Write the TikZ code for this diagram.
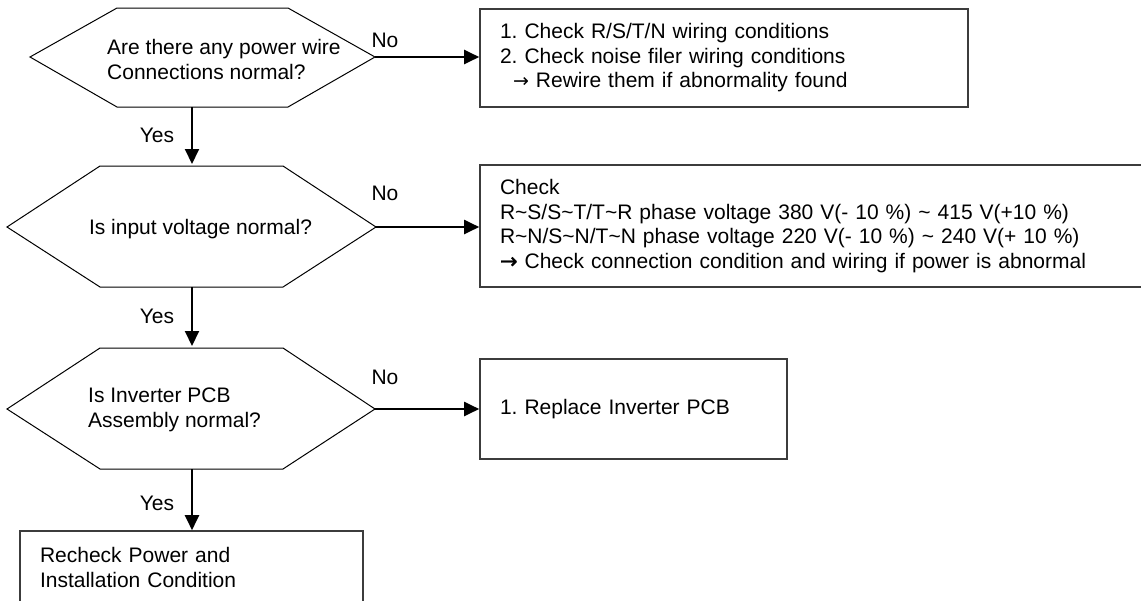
\documentclass[tikz,border=0pt]{standalone}
\usepackage{fontspec}
\setmainfont{Liberation Sans}
\newfontfamily\arrowfont{DejaVu Sans}
\usetikzlibrary{arrows.meta}
\definecolor{boxline}{HTML}{3C3C3C}
\frenchspacing
\tikzset{
  hexline/.style={draw=black, line width=1pt, line join=miter},
  boxnode/.style={draw=boxline, line width=1.6pt, rectangle, align=left, inner xsep=20pt, inner ysep=0pt, font=\fontsize{21}{24.5}\selectfont},
  qtext/.style={align=left, inner sep=0pt, font=\fontsize{21}{25}\selectfont},
  lbl/.style={inner sep=0pt, font=\fontsize{21}{25}\selectfont},
  flow/.style={line width=2pt, -{Triangle[length=15pt,width=14pt]}},
}
\begin{document}
\begin{tikzpicture}[x=1pt,y=-1pt]
\useasboundingbox (0,0) rectangle (1141,600);
\fill[white] (0,0) rectangle (1141,600);

% hexagon 1
\draw[hexline] (117,8) -- (288,8) -- (375,57) -- (288,107) -- (117,107) -- (30,57) -- cycle;
\coordinate (h1r) at (375,57);
\coordinate (h1b) at (192,107);
\node[qtext, anchor=west] (q1) at (107,59.5) {Are there any power wire\\Connections normal?};

% hexagon 2
\draw[hexline] (100,166) -- (283,166) -- (376,227) -- (283,287) -- (100,287) -- (7,227) -- cycle;
\coordinate (h2t) at (192,164);
\coordinate (h2r) at (376,227);
\coordinate (h2b) at (192,287);
\node[qtext] (q2) at (200.5,229) {Is input voltage normal?};

% hexagon 3
\draw[hexline] (100,348) -- (283,348) -- (375,409) -- (283,469) -- (100,469) -- (7,409) -- cycle;
\coordinate (h3t) at (192,346);
\coordinate (h3r) at (375,409);
\coordinate (h3b) at (192,469);
\node[qtext, anchor=west] (q3) at (88,410) {Is Inverter PCB\\Assembly normal?};

% boxes
\node[boxnode, minimum width=488pt, minimum height=98pt, text width=448pt] (b1) at (724,58)
  {1. Check R/S/T/N wiring conditions\\2. Check noise filer wiring conditions\\\hspace*{13pt}{\arrowfont\fontsize{19}{19}\selectfont →} Rewire them if abnormality found};
\node[boxnode, minimum width=680pt, minimum height=122pt, text width=640pt] (b2) at (820,226)
  {Check\\R\textasciitilde S/S\textasciitilde T/T\textasciitilde R phase voltage 380 V(- 10 \%) \textasciitilde\ 415 V(+10 \%)\\R\textasciitilde N/S\textasciitilde N/T\textasciitilde N phase voltage 220 V(- 10 \%) \textasciitilde\ 240 V(+ 10 \%)\\{\arrowfont\fontsize{21}{21}\selectfont\addfontfeature{FakeBold=1.5}→} Check connection condition and wiring if power is abnormal};
\node[boxnode, minimum width=307pt, minimum height=100pt, text width=267pt] (b3) at (633.5,409)
  {1. Replace Inverter PCB};
\node[boxnode, minimum width=343pt, minimum height=73pt, text width=303pt] (b4) at (191.5,567.5)
  {Recheck Power and\\Installation Condition};

% connectors
\draw[flow] (h1r) -- (h1r -| b1.west);
\draw[flow] (h2r) -- (h2r -| b2.west);
\draw[flow] (h3r) -- (h3r -| b3.west);
\draw[flow] (h1b) -- (h2t);
\draw[flow] (h2b) -- (h3t);
\draw[flow] (h3b) -- (h3b |- b4.north);

% labels
\node[lbl] (no1) at (385,40) {No};
\node[lbl] (no2) at (385,193) {No};
\node[lbl] (no3) at (385,377) {No};
\node[lbl] (yes1) at (157,135) {Yes};
\node[lbl] (yes2) at (157,316) {Yes};
\node[lbl] (yes3) at (157,503) {Yes};
\end{tikzpicture}
\end{document}
